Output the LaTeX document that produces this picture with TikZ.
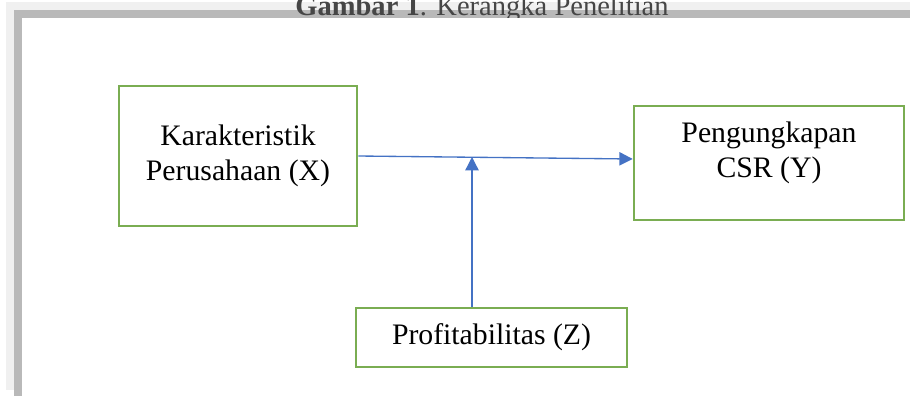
\documentclass[tikz,border=0pt]{standalone}
\usepackage{fontspec}
\setmainfont{Liberation Serif}
\usetikzlibrary{arrows.meta}
\definecolor{hijau}{RGB}{122,173,82}
\definecolor{biru}{RGB}{68,114,196}
\definecolor{abumuda}{RGB}{240,240,240}
\definecolor{abutua}{RGB}{185,185,185}
\definecolor{judulteks}{RGB}{70,70,70}
\tikzset{
  kotak/.style={draw=hijau, line width=1.9pt, fill=white, align=center, inner sep=0pt,
    font=\fontsize{22.3}{26.3}\selectfont},
  panah/.style={draw=biru, line width=1pt, -{Triangle[length=10pt,width=10pt]}}
}
\begin{document}
\begin{tikzpicture}[x=0.75pt,y=-0.75pt]
            \useasboundingbox (0,0) rectangle (910,396);
            \fill[abumuda] (6,2) rectangle (910,390);
            \fill[abutua] (14,10) rectangle (910,396);
            \node[anchor=base, text=judulteks, font=\fontsize{21.4}{25}\selectfont] at (482,15) (judul) {\textbf{Gambar 1}. Kerangka Penelitian};
            \fill[white] (22,18) rectangle (910,396);
            \node[kotak, minimum width=178.5pt, minimum height=105pt] at (238,156) (kar) {Karakteristik\\Perusahaan (X)};
            \node[kotak, minimum width=202.5pt, minimum height=85.5pt] at (769,163) (csr) {};
            \node[anchor=center, align=center, font=\fontsize{22.3}{26.3}\selectfont] at (769,153) (csrteks) {Pengungkapan\\CSR (Y)};
            \node[kotak, minimum width=203.25pt, minimum height=44.25pt] at (491.5,337.5) (prof) {Profitabilitas (Z)};
            \coordinate (temu) at (472,157);
            \draw[panah] (kar.east) -- ([yshift=3pt]csr.west);
            \draw[panah] (prof.north -| temu) -- (temu);
        \end{tikzpicture}
\end{document}
